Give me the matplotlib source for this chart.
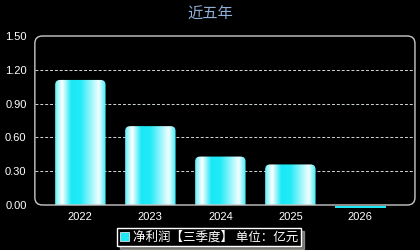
import matplotlib

matplotlib.use("Agg")
import matplotlib.pyplot as plt
import numpy as np
from matplotlib.colors import LinearSegmentedColormap
from matplotlib.patches import FancyBboxPatch, Rectangle

plt.rcParams["font.family"] = ["Liberation Sans", "Noto Sans CJK SC", "DejaVu Sans"]

years = ["2022", "2023", "2024", "2025", "2026"]
profit = [1.11, 0.70, 0.43, 0.36, -0.01]
y_ticks = [0.0, 0.3, 0.6, 0.9, 1.2, 1.5]

CYAN = "#1de9f6"
grad = LinearSegmentedColormap.from_list(
    "bar",
    [(0.0, "#5ff0fa"), (0.14, "#ffffff"), (0.32, "#19e8f6"), (0.5, "#22eaf7"),
     (0.86, "#f2feff"), (1.0, "#3cecf8")],
)
grad_img = np.linspace(0, 1, 256).reshape(1, -1)

fig = plt.figure(figsize=(4.2, 2.5), dpi=100, facecolor="black")
ax = fig.add_axes([0.083, 0.18, 0.905, 0.676])
ax.set_facecolor("black")
ax.set_xlim(-0.65, 4.78)
ax.set_ylim(0, 1.5)
for s in ax.spines.values():
    s.set_visible(False)

# rounded frame
frame = FancyBboxPatch((0, 0), 1, 1, boxstyle="round,pad=0,rounding_size=0.02",
                       transform=ax.transAxes, facecolor="none", edgecolor="#c8c8c8",
                       linewidth=1.0, mutation_aspect=2.2, clip_on=False, zorder=5)
ax.add_patch(frame)

for y in y_ticks[1:-1]:
    ax.axhline(y, color="#d0d8d8", linewidth=0.7, linestyle=(0, (3, 2)), zorder=1)

width = 0.72
x = np.arange(len(years))
for xi, v in zip(x, profit):
    if v > 0:
        patch = FancyBboxPatch((xi - width / 2, -0.1), width, v + 0.1,
                               boxstyle="round,pad=0,rounding_size=0.07",
                               mutation_aspect=0.62, facecolor="none",
                               edgecolor="none", zorder=2)
        ax.add_patch(patch)
        im = ax.imshow(grad_img, cmap=grad, aspect="auto", zorder=3,
                       extent=(xi - width / 2, xi + width / 2, 0, v))
        im.set_clip_path(patch)
    else:
        ax.add_patch(Rectangle((xi - width / 2, v - 0.016), width, 0.016,
                               facecolor=CYAN, edgecolor="none", clip_on=False, zorder=6))

ax.set_xlim(-0.65, 4.78)
ax.set_ylim(0, 1.5)
ax.set_xticks(x)
ax.set_xticklabels(years)
ax.set_yticks(y_ticks)
ax.set_yticklabels([f"{t:.2f}" for t in y_ticks])
ax.tick_params(colors="white", length=0, labelsize=8)
ax.tick_params(axis="x", pad=5)
ax.tick_params(axis="y", pad=6)

fig.text(0.5, 0.945, "近五年", ha="center", va="center", fontsize=11,
         color="#8fb0d8", family=["Noto Sans CJK SC"])

handle = Rectangle((0, 0), 1, 1, facecolor=CYAN, edgecolor="white", linewidth=0.5)
leg = fig.legend([handle], ["净利润【三季度】 单位：亿元"], loc="center",
                 bbox_to_anchor=(0.498, 0.052), frameon=True,
                 shadow={"color": "#d8d8d0", "ox": 2, "oy": -2},
                 fancybox=False, handlelength=0.75, handleheight=0.75,
                 handletextpad=0.3, borderpad=0.2,
                 prop={"family": ["Noto Sans CJK SC"], "size": 9})
leg.get_frame().set_facecolor("black")
leg.get_frame().set_edgecolor("white")
leg.get_frame().set_linewidth(1.0)
for t in leg.get_texts():
    t.set_color("white")

fig.savefig("out.png", dpi=100, facecolor="black")
